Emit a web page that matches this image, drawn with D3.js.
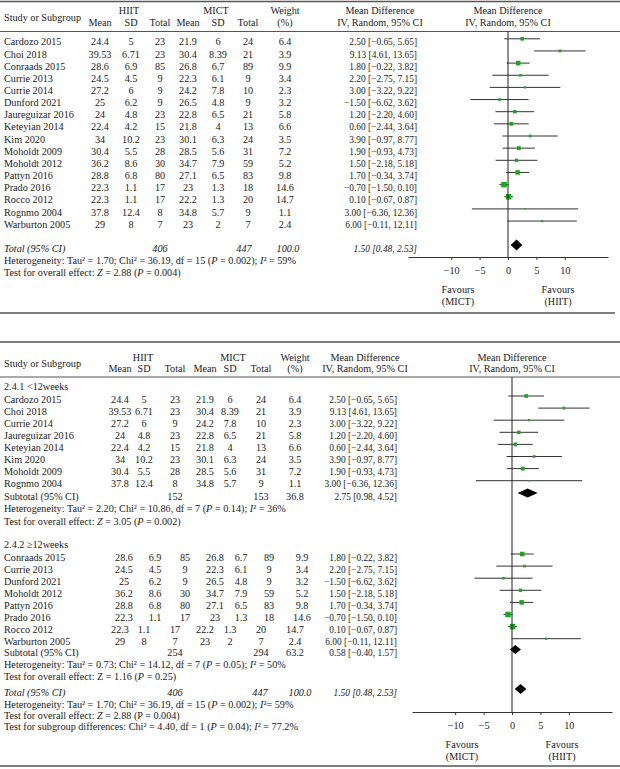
<!DOCTYPE html>
<html><head><meta charset="utf-8">
<script src="https://cdn.jsdelivr.net/npm/d3@7"></script>
<style>
body{margin:0;background:#fff;}
svg{display:block;}
text{font-family:"Liberation Serif","DejaVu Serif",serif;font-size:10.2px;fill:#222;}
text.md{font-size:9.4px;}
</style></head>
<body><svg id="c" width="620" height="769"></svg>
<script>
// ---------- DATA ----------
const studies = ["Cardozo 2015","Choi 2018","Conraads 2015","Currie 2013","Currie 2014","Dunford 2021","Jaureguizar 2016","Keteyian 2014","Kim 2020","Moholdt 2009","Moholdt 2012","Pattyn 2016","Prado 2016","Rocco 2012","Rognmo 2004","Warburton 2005"];
const hiitMean = ["24.4","39.53","28.6","24.5","27.2","25","24","22.4","34","30.4","36.2","28.8","22.3","22.3","37.8","29"];
const hiitSD   = ["5","6.71","6.9","4.5","6","6.2","4.8","4.2","10.2","5.5","8.6","6.8","1.1","1.1","12.4","8"];
const hiitN    = [23,23,85,9,9,9,23,15,23,28,30,80,17,17,8,7];
const mictMean = ["21.9","30.4","26.8","22.3","24.2","26.5","22.8","21.8","30.1","28.5","34.7","27.1","23","22.2","34.8","23"];
const mictSD   = ["6","8.39","6.7","6.1","7.8","4.8","6.5","4","6.3","5.6","7.9","6.5","1.3","1.3","5.7","2"];
const mictN    = [24,21,89,9,10,9,21,13,24,31,59,83,18,20,9,7];
const weights  = [6.4,3.9,9.9,3.4,2.3,3.2,5.8,6.6,3.5,7.2,5.2,9.8,14.6,14.7,1.1,2.4];
const md       = [2.50,9.13,1.80,2.20,3.00,-1.50,1.20,0.60,3.90,1.90,1.50,1.70,-0.70,0.10,3.00,6.00];
const ciLow    = [-0.65,4.61,-0.22,-2.75,-3.22,-6.62,-2.20,-2.44,-0.97,-0.93,-2.18,-0.34,-1.50,-0.67,-6.36,-0.11];
const ciHigh   = [5.65,13.65,3.82,7.15,9.22,3.62,4.60,3.64,8.77,4.73,5.18,3.74,0.10,0.87,12.36,12.11];

const subgroupLabels = ["2.4.1 <12weeks","2.4.2 \u226512weeks"];
const subgroupMembers = [
  ["Cardozo 2015","Choi 2018","Currie 2014","Jaureguizar 2016","Keteyian 2014","Kim 2020","Moholdt 2009","Rognmo 2004"],
  ["Conraads 2015","Currie 2013","Dunford 2021","Moholdt 2012","Pattyn 2016","Prado 2016","Rocco 2012","Warburton 2005"]
];
// pooled: [total, subgroup 1, subgroup 2]
const pooledMD     = [1.50, 2.75, 0.58];
const pooledLow    = [0.48, 0.98, -0.40];
const pooledHigh   = [2.53, 4.52, 1.57];
const pooledHiitN  = [406, 152, 254];
const pooledMictN  = [447, 153, 294];
const pooledWeight = [100.0, 36.8, 63.2];

const tickValues = [-10,-5,0,5,10];
const favoursLabels = [["Favours","(MICT)"],["Favours","(HIIT)"]];

// ---------- HELPERS ----------
const svg = d3.select("#c");
const fmtNum = v => (v < 0 ? "\u2212" : "") + Math.abs(v).toFixed(2);
const ciText = i => fmtNum(md[i]) + " [" + fmtNum(ciLow[i]) + ", " + fmtNum(ciHigh[i]) + "]";
const pooledText = k => fmtNum(pooledMD[k]) + " [" + fmtNum(pooledLow[k]) + ", " + fmtNum(pooledHigh[k]) + "]";
const BL = 3.6; // baseline offset from visual centre
const MK = -3;  // marker offset from text centre

function txt(x, yc, s, anchor, italic) {
  return svg.append("text").attr("x", x).attr("y", yc + BL)
    .attr("text-anchor", anchor || "start")
    .style("font-style", italic ? "italic" : "normal").text(s);
}
function rich(x, yc, segs) {
  const t = svg.append("text").attr("x", x).attr("y", yc + BL);
  segs.forEach(s => {
    if (typeof s === "string") t.append("tspan").text(s);
    else t.append("tspan").style("font-style", "italic").text(s[0]);
  });
  return t;
}
function hline(x1, x2, y, w, c) {
  svg.append("line").attr("x1", x1).attr("x2", x2).attr("y1", y).attr("y2", y)
    .attr("stroke", c || "#444").attr("stroke-width", w || 1);
}
function header(L) {
  txt(4, L.hy2 - 5.5, "Study or Subgroup");
  txt(L.hiitC, L.hy1, "HIIT", "middle");
  txt(L.mictC, L.hy1, "MICT", "middle");
  ["Mean","SD","Total","Mean","SD","Total"].forEach((s, j) => txt(L.cols[j], L.hy2, s, "middle"));
  txt(L.cols[6], L.hy1, "Weight", "middle");
  txt(L.cols[6], L.hy2, "(%)", "middle");
  txt(L.mdC, L.hy1, "Mean Difference", "middle");
  txt(L.mdC, L.hy2, "IV, Random, 95% CI", "middle");
  txt(L.x(0), L.hy1, "Mean Difference", "middle");
  txt(L.x(0), L.hy2, "IV, Random, 95% CI", "middle");
}
function studyRow(L, i, yc, cols) {
  cols = cols || L.cols;
  txt(4, yc, studies[i]);
  [hiitMean[i], hiitSD[i], hiitN[i], mictMean[i], mictSD[i], mictN[i], weights[i].toFixed(1)]
    .forEach((v, j) => txt(cols[j], yc, String(v), "middle"));
  txt(L.mdR, yc, ciText(i), "end").attr("class", "md");
  const ym = yc + MK;
  svg.append("line").attr("x1", L.x(ciLow[i])).attr("x2", L.x(ciHigh[i]))
    .attr("y1", ym).attr("y2", ym).attr("stroke", "#333").attr("stroke-width", 1);
  const s = 1.45 * Math.sqrt(weights[i]);
  svg.append("rect").attr("x", L.x(md[i]) - s / 2).attr("y", ym - s / 2)
    .attr("width", s).attr("height", s).attr("fill", "#1fa51f");
}
function pooledRow(L, k, yc, label, italic, cols, hh) {
  cols = cols || L.cols;
  txt(4, yc, label, "start", italic);
  txt(cols[2], yc, String(pooledHiitN[k]), "middle", italic);
  txt(cols[5], yc, String(pooledMictN[k]), "middle", italic);
  txt(cols[6], yc, pooledWeight[k].toFixed(1), "middle", italic);
  txt(L.mdR, yc, pooledText(k), "end", italic).attr("class", "md");
  const ym = yc + MK;
  const xl = L.x(pooledLow[k]), xr = L.x(pooledHigh[k]), xc = L.x(pooledMD[k]);
  svg.append("path").attr("d", `M${xl},${ym}L${xc},${ym - hh}L${xr},${ym}L${xc},${ym + hh}Z`).attr("fill", "#000");
}
function axis(L) {
  const g = svg.append("g").attr("transform", `translate(0,${L.axisY})`)
    .call(d3.axisBottom(L.x).tickValues(tickValues).tickSize(3).tickSizeOuter(0).tickPadding(7)
      .tickFormat(d => d < 0 ? "\u2212" + Math.abs(d) : String(d)));
  g.select(".domain").attr("stroke", "#333");
  g.selectAll(".tick line").attr("stroke", "#333");
  g.selectAll("text").style("font-family", '"Liberation Serif",serif').style("font-size", "10.2px").attr("fill", "#222");
  svg.append("line").attr("x1", L.x(0)).attr("x2", L.x(0)).attr("y1", L.hline).attr("y2", L.axisY)
    .attr("stroke", "#222").attr("stroke-width", 1);
  [L.x(-8.8), L.x(8.8)].forEach((cx, j) => {
    txt(cx, L.favY, favoursLabels[j][0], "middle");
    txt(cx, L.favY + 12, favoursLabels[j][1], "middle");
  });
}

// ---------- PANEL 1 ----------
const L1 = {
  x: d3.scaleLinear().domain([-17.6, 17.6]).range([408, 608]),
  cols: [100, 131, 160, 188, 218, 248, 285],
  hiitC: 129, mictC: 216, mdC: 380, mdR: 417,
  hy1: 10.5, hy2: 22.5, hline: 31.5, axisY: 257, favY: 289
};
hline(0, 620, 1.5, 1.6, "#555");
header(L1);
hline(0, 620, L1.hline, 1, "#555");
studies.forEach((s, i) => studyRow(L1, i, 41.8 + i * 12.15));
pooledRow(L1, 0, 248, "Total (95% CI)", true, [0, 0, 160, 0, 0, 244, 288], 5.5);
rich(4, 260.5, ["Heterogeneity: Tau\u00B2 = 1.70; Chi\u00B2 = 36.19, df = 15 (", ["P"], " = 0.002); ", ["I"], "\u00B2 = 59%"]);
rich(4, 272, ["Test for overall effect: ", ["Z"], " = 2.88 (", ["P"], " = 0.004)"]);
axis(L1);
hline(0, 615, 313, 1.6, "#555");

// ---------- PANEL 2 ----------
const L2 = {
  x: d3.scaleLinear().domain([-17.6, 17.6]).range([412, 612]),
  cols: [120, 144, 175, 205, 230, 261, 295],
  hiitC: 143, mictC: 233, mdC: 365, mdR: 397,
  hy1: 357, hy2: 368.5, hline: 377, axisY: 712, favY: 744
};
const colsShift = [124, 155, 185, 215, 241, 269, 302];
hline(0, 620, 342, 1.6, "#555");
header(L2);
hline(0, 620, L2.hline, 1, "#555");

// subgroup 1
txt(4, 386, subgroupLabels[0]);
subgroupMembers[0].forEach((n, j) => studyRow(L2, studies.indexOf(n), 399 + j * 12.1));
pooledRow(L2, 1, 496, "Subtotal (95% CI)", false, null, 4.6);
rich(4, 508.5, ["Heterogeneity: Tau\u00B2 = 2.20; Chi\u00B2 = 10.86, df = 7 (", ["P"], " = 0.14); ", ["I"], "\u00B2 = 36%"]);
rich(4, 521, ["Test for overall effect: ", ["Z"], " = 3.05 (", ["P"], " = 0.002)"]);

// subgroup 2
txt(4, 544, subgroupLabels[1]);
subgroupMembers[1].forEach((n, j) => studyRow(L2, studies.indexOf(n), 557 + j * 12.1, j < 6 ? colsShift : null));
pooledRow(L2, 2, 652.5, "Subtotal (95% CI)", false, null, 4.6);
rich(4, 664.5, ["Heterogeneity: Tau\u00B2 = 0.73; Chi\u00B2 = 14.12, df = 7 (", ["P"], " = 0.05); ", ["I"], "\u00B2 = 50%"]);
rich(4, 676.5, ["Test for overall effect: Z = 1.16 (", ["P"], " = 0.25)"]);

// total
pooledRow(L2, 0, 692, "Total (95% CI)", true, [0, 0, 175, 0, 0, 260, 300], 5);
rich(4, 704, ["Heterogeneity: Tau\u00B2 = 1.70; Chi\u00B2 = 36.19, df = 15 (", ["P"], " = 0.002); ", ["I"], "\u00B2= 59%"]);
rich(4, 715, ["Test for overall effect: ", ["Z"], " = 2.88 (P = 0.004)"]);
rich(4, 726.5, ["Test for subgroup differences: Chi\u00B2 = 4.40, df = 1 (", ["P"], " = 0.04); ", ["I"], "\u00B2 = 77.2%"]);
axis(L2);
hline(0, 620, 766, 1.6, "#555");
</script></body></html>
